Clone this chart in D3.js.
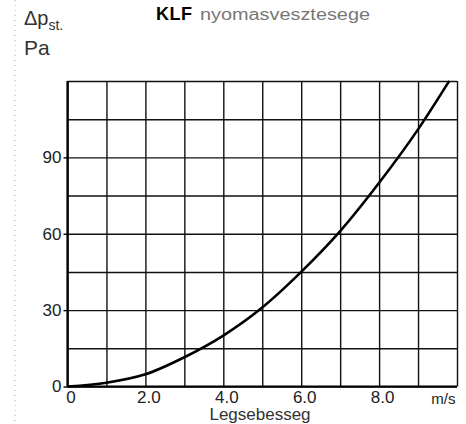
<!DOCTYPE html>
<html>
<head>
<meta charset="utf-8">
<script src="https://cdn.jsdelivr.net/npm/d3@7"></script>
<style>
  html, body { margin: 0; padding: 0; background: #fff; }
  svg { display: block; font-family: "Liberation Sans", Arial, sans-serif; }
</style>
</head>
<body>
<div id="chart"></div>
<script>
// Air velocity (m/s) vs. static pressure loss (Pa)
const speed    = [0, 1, 2, 3, 4, 5, 6, 7, 8, 9, 9.8];
const pressure = [0, 1.5, 4.8, 11.5, 20, 31, 45, 61, 80, 101, 120];

const xTicks = [0, 2, 4, 6, 8];
const yTicks = [0, 30, 60, 90];
const xGrid = [0, 1, 2, 3, 4, 5, 6, 7, 8, 9, 10];
const yGrid = [0, 15, 30, 45, 60, 75, 90, 105, 120];

const width = 466, height = 424;

const svg = d3.select('#chart').append('svg')
  .attr('width', width)
  .attr('height', height);

//>>> scales
const x = d3.scaleLinear().domain([0, 10]).range([67.5, 457]);
const y = d3.scaleLinear().domain([0, 120]).range([386.5, 81]);

//>>> scan artefact: dotted rule at the left margin
svg.append('line')
  .attr('x1', 15).attr('x2', 15)
  .attr('y1', 0).attr('y2', height)
  .attr('stroke', '#aaa')
  .attr('stroke-width', 1)
  .attr('stroke-dasharray', '1,4');

//>>> grid
const gridX = svg.append('g')
  .attr('transform', `translate(0,${y(0)})`)
  .call(d3.axisBottom(x).tickValues(xGrid).tickSize(-(y(0) - y(120))).tickFormat(''));
const gridY = svg.append('g')
  .attr('transform', `translate(${x(0)},0)`)
  .call(d3.axisLeft(y).tickValues(yGrid).tickSize(-(x(10) - x(0))).tickFormat(''));
[gridX, gridY].forEach(g => {
  g.select('.domain').remove();
  g.selectAll('line').attr('stroke', '#111').attr('stroke-width', 1.4);
});

//>>> heavier left and bottom frame
svg.append('line')
  .attr('x1', x(0)).attr('x2', x(0)).attr('y1', y(0)).attr('y2', y(120))
  .attr('stroke', '#000').attr('stroke-width', 2.2);
svg.append('line')
  .attr('x1', x(0)).attr('x2', x(10)).attr('y1', y(0)).attr('y2', y(0))
  .attr('stroke', '#000').attr('stroke-width', 2);

//>>> axes labels
const xAxis = svg.append('g')
  .attr('transform', `translate(0,${y(0)})`)
  .call(d3.axisBottom(x).tickValues(xTicks).tickSize(0).tickPadding(4)
    .tickFormat(d => d === 0 ? '0' : d3.format('.1f')(d)));
const yAxis = svg.append('g')
  .attr('transform', `translate(${x(0)},0)`)
  .call(d3.axisLeft(y).tickValues(yTicks).tickSize(4).tickPadding(2));
[xAxis, yAxis].forEach(g => {
  g.select('.domain').remove();
  g.selectAll('line').attr('stroke', '#000').attr('stroke-width', 1.4);
  g.selectAll('text')
    .attr('fill', '#222')
    .style('font-size', '17px')
    .style('font-family', '"Liberation Sans", Arial, sans-serif');
});
xAxis.selectAll('text').attr('dx', 3);

svg.append('text')
  .attr('x', x(9.65)).attr('y', 404)
  .attr('text-anchor', 'middle')
  .attr('fill', '#222')
  .style('font-size', '15px')
  .text('m/s');

svg.append('text')
  .attr('x', 260).attr('y', 420)
  .attr('text-anchor', 'middle')
  .attr('fill', '#333')
  .style('font-size', '17px')
  .text('Legsebesseg');

//>>> y unit
const unit = svg.append('text')
  .attr('x', 24).attr('y', 25)
  .attr('fill', '#333')
  .style('font-size', '20px');
unit.append('tspan').text('Δp');
unit.append('tspan').attr('dy', 5).style('font-size', '14px').text('st.');
svg.append('text')
  .attr('x', 24).attr('y', 55)
  .attr('fill', '#333')
  .style('font-size', '21px')
  .text('Pa');

//>>> title
svg.append('text')
  .attr('x', 156).attr('y', 20)
  .attr('fill', '#000')
  .attr('textLength', 36)
  .style('font-size', '18px')
  .style('font-weight', 'bold')
  .text('KLF');
svg.append('text')
  .attr('x', 200).attr('y', 20)
  .attr('fill', '#777')
  .attr('textLength', 170)
  .attr('lengthAdjust', 'spacingAndGlyphs')
  .style('font-size', '16px')
  .text('nyomasvesztesege');

//>>> curve
const line = d3.line()
  .x((d, i) => x(speed[i]))
  .y(d => y(d))
  .curve(d3.curveMonotoneX);

svg.append('path')
  .datum(pressure)
  .attr('d', line)
  .attr('fill', 'none')
  .attr('stroke', '#000')
  .attr('stroke-width', 2.6);
</script>
</body>
</html>
